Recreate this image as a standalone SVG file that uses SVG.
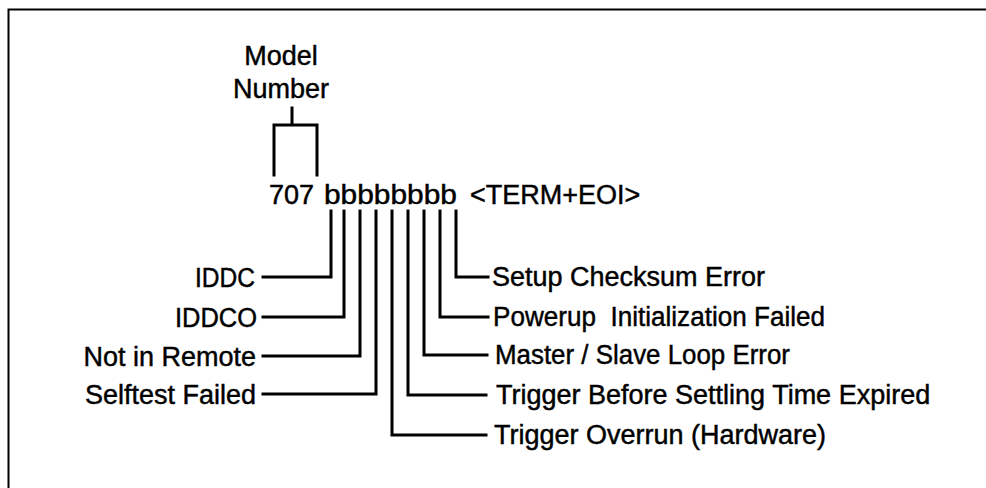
<svg xmlns="http://www.w3.org/2000/svg" width="986" height="488" viewBox="0 0 986 488">
<style>
text{font-family:"Liberation Sans",Arial,sans-serif;font-size:27px;fill:#000;stroke:#000;stroke-width:0.45px;white-space:pre}
.l{text-anchor:end}
.c{text-anchor:middle}
.w{fill:none;stroke:#000;stroke-width:3;stroke-linecap:square;stroke-linejoin:miter}
.b{fill:none;stroke:#000;stroke-width:2}
</style>
<rect width="986" height="488" fill="#fff"/>
<path class="b" d="M986,9.5 H8.5 V488"/>
<g id="model">
<text class="c" x="281" y="65">Model</text>
<text class="c" x="281" y="98">Number</text>
<path class="w" d="M292,108 V125 M274,175 V125 H317 V175"/>
</g>
<g id="string">
<text x="269" y="204">707 <tspan x="324" textLength="133" lengthAdjust="spacingAndGlyphs">bbbbbbbb</tspan> <tspan x="470">&lt;TERM+EOI&gt;</tspan></text>
</g>
<g id="connectors">
<path class="w" d="M331,211 V277 H263"/>
<path class="w" d="M344,211 V317 H263"/>
<path class="w" d="M360,211 V356 H263"/>
<path class="w" d="M376,211 V394 H263"/>
<path class="w" d="M392,211 V435 H486"/>
<path class="w" d="M408,211 V395 H486"/>
<path class="w" d="M424,211 V355 H487"/>
<path class="w" d="M440,211 V317 H488"/>
<path class="w" d="M456,211 V277 H488"/>
</g>
<g id="iddc"><text class="l" x="255" y="287" textLength="60" lengthAdjust="spacingAndGlyphs">IDDC</text></g>
<g id="iddco"><text class="l" x="257" y="327" textLength="82" lengthAdjust="spacingAndGlyphs">IDDCO</text></g>
<g id="not-in-remote"><text class="l" x="256" y="366">Not in Remote</text></g>
<g id="selftest"><text class="l" x="256" y="404">Selftest Failed</text></g>
<g id="setup"><text x="492" y="286">Setup Checksum Error</text></g>
<g id="powerup"><text x="493" y="326" textLength="332" lengthAdjust="spacingAndGlyphs">Powerup  Initialization Failed</text></g>
<g id="master"><text x="495" y="364" textLength="295" lengthAdjust="spacingAndGlyphs">Master / Slave Loop Error</text></g>
<g id="trigger-before"><text x="496" y="404">Trigger Before Settling Time Expired</text></g>
<g id="trigger-overrun"><text x="494" y="444">Trigger Overrun (Hardware)</text></g>
</svg>
